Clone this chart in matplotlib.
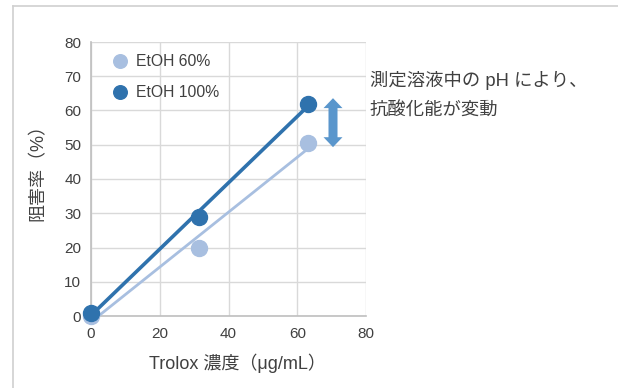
import numpy as np
import matplotlib
matplotlib.use("Agg")
import matplotlib.pyplot as plt
from matplotlib.lines import Line2D
from matplotlib.patches import Polygon

plt.rcParams['font.family'] = ['Liberation Sans', 'Noto Sans CJK JP', 'DejaVu Sans']

conc = [0, 31.5, 63]
etoh60 = [0, 20, 50.5]
etoh100 = [1, 29, 62]
series_names = ["EtOH 60%", "EtOH 100%"]
xticks = [0, 20, 40, 60, 80]
yticks = [0, 10, 20, 30, 40, 50, 60, 70, 80]
xlabel = "Trolox 濃度（μg/mL）"
ylabel = "阻害率（%）"
note_lines = ["測定溶液中の pH により、", "抗酸化能が変動"]

c_light = "#a8bfe0"
c_dark = "#2f72ad"
c_arrow = "#5a96cc"
txt = "#404040"

W, H = 618, 388
AL, AR, AT, AB = 91, 366, 42, 316
fig = plt.figure(figsize=(W/100, H/100), dpi=100)
ax = fig.add_axes([AL/W, 1-AB/H, (AR-AL)/W, (AB-AT)/H])
ax.set_xlim(0, 80)
ax.set_ylim(0, 80)
ax.set_xticks(xticks)
ax.set_yticks(yticks)
ax.grid(True, color="#d9d9d9", lw=1)
ax.set_axisbelow(True)
for s in ["top", "right"]:
    ax.spines[s].set_visible(False)
for s in ["left", "bottom"]:
    ax.spines[s].set_color("#bfbfbf")
    ax.spines[s].set_linewidth(1.2)
ax.tick_params(length=0, labelsize=11, colors=txt)
ax.tick_params(axis='x', pad=8)
ax.tick_params(axis='y', pad=7)

x = np.array(conc)
xs = np.array([0, 63])
for ys, col, lw in [(etoh60, c_light, 2.0), (etoh100, c_dark, 2.6)]:
    k, b = np.polyfit(x, np.array(ys), 1)
    ax.plot(xs, k*xs + b, color=col, lw=lw, zorder=3, solid_capstyle='butt')
ax.plot(conc, etoh60, 'o', color=c_light, ms=11.5, zorder=4, label=series_names[0], clip_on=False)
ax.plot(conc, etoh100, 'o', color=c_dark, ms=11.5, zorder=5, label=series_names[1], clip_on=False)

leg = ax.legend(loc="upper left", bbox_to_anchor=(0.04, 0.995), frameon=False,
                fontsize=11.3, labelcolor=txt, handlelength=0.9, handletextpad=0.55,
                labelspacing=1.0, borderaxespad=0.3, markerscale=0.85)

# double-headed block arrow (data units; x: 3.4375 px/unit, y: 3.425 px/unit)
ax_x = 70.4
ytop, ybot = etoh100[2] + 1.6, etoh60[2] - 1.2
sw, hw, hl = 1.31, 2.76, 2.9
pts = [(ax_x, ytop), (ax_x + hw, ytop - hl), (ax_x + sw, ytop - hl),
       (ax_x + sw, ybot + hl), (ax_x + hw, ybot + hl), (ax_x, ybot),
       (ax_x - hw, ybot + hl), (ax_x - sw, ybot + hl), (ax_x - sw, ytop - hl),
       (ax_x - hw, ytop - hl)]
ax.add_patch(Polygon(pts, closed=True, facecolor=c_arrow, edgecolor='none',
                     zorder=6, clip_on=False))

ax.set_xlabel(xlabel, fontsize=13, color=txt)
ax.xaxis.set_label_coords((237.5-AL)/(AR-AL), -(354-AB)/(AB-AT))
ax.set_ylabel(ylabel, fontsize=13, color=txt)
ax.yaxis.set_label_coords(-(AL-47)/(AR-AL), (AB-168)/(AB-AT))

fig.text(370/W, 1-80/H, note_lines[0], fontsize=13.2, color=txt, va="center", ha="left")
fig.text(370/W, 1-111/H, note_lines[1], fontsize=13.2, color=txt, va="center", ha="left")

# outer frame lines (top and left)
fig.add_artist(Line2D([13/W, 1], [1-6/H, 1-6/H], color="#d0d0d0", lw=1.2, transform=fig.transFigure))
fig.add_artist(Line2D([13/W, 13/W], [0, 1-6/H], color="#d0d0d0", lw=1.2, transform=fig.transFigure))

fig.savefig("out.png", dpi=100)
